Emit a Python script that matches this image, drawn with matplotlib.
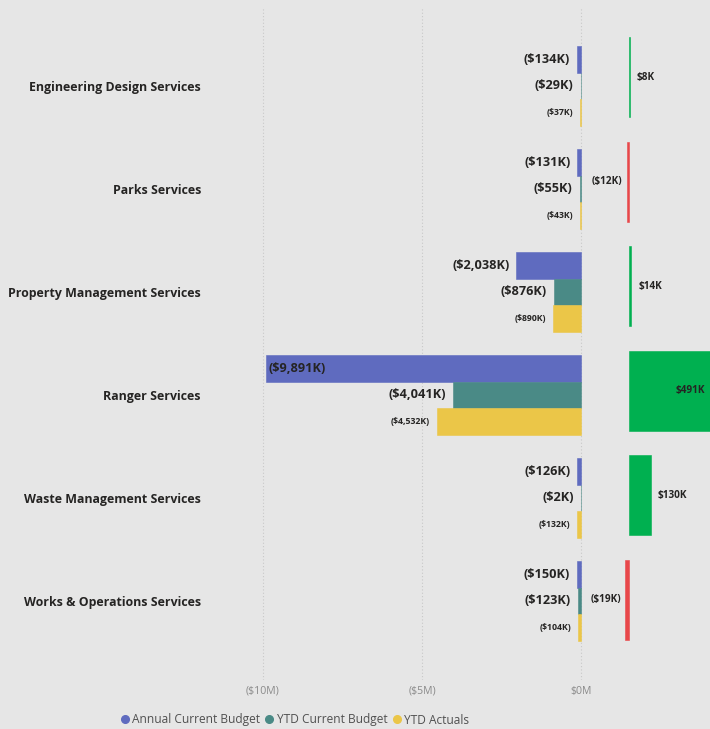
import matplotlib.pyplot as plt
from matplotlib.lines import Line2D

plt.rcParams['font.family'] = ['Open Sans', 'DejaVu Sans']

# values in $K
services = ['Engineering Design Services', 'Parks Services', 'Property Management Services',
            'Ranger Services', 'Waste Management Services', 'Works & Operations Services']
annual_budget = [-134, -131, -2038, -9891, -126, -150]
ytd_budget = [-29, -55, -876, -4041, -2, -123]
ytd_actuals = [-37, -43, -890, -4532, -132, -104]
variance = [8, -12, 14, 491, 130, -19]

series_names = ['Annual Current Budget', 'YTD Current Budget', 'YTD Actuals']
series_colors = ['#5F6BBF', '#4A8A86', '#EBC648']
xtick_vals = [-10000, -5000, 0]
xtick_text = ['($10M)', '($5M)', '$0M']

BG = '#E6E6E6'
TXT = '#252423'


def fmt_k(v):
    s = '${:,.0f}K'.format(abs(v))
    return '({})'.format(s) if v < 0 else s


W, H = 710, 729
fig = plt.figure(figsize=(W / 100, H / 100), dpi=100, facecolor=BG)

# main grouped bars
ax = fig.add_axes([210 / W, 1 - 680 / H, 390 / W, 672 / H])
ax.set_facecolor('none')
ax.set_xlim(-11646, 580)
ax.set_ylim(5.767, -0.757)

bh = 0.256
series = [annual_budget, ytd_budget, ytd_actuals]
for k, (vals, col) in enumerate(zip(series, series_colors)):
    off = (k - 1) * bh
    for i, v in enumerate(vals):
        y = i + off
        ax.barh(y, v, height=bh, color=col, edgecolor=col, linewidth=0.4)
        fs = 6.3 if k == 2 else 9.2
        if v < -9000:
            ax.annotate(fmt_k(v), (v, y), xytext=(3, 0), textcoords='offset pixels',
                        ha='left', va='center', fontsize=fs, fontweight='bold', color=TXT)
        else:
            ax.annotate(fmt_k(v), (v, y), xytext=(-7, 0), textcoords='offset pixels',
                        ha='right', va='center', fontsize=fs, fontweight='bold', color=TXT)

ax.set_yticks(range(len(services)))
ax.set_yticklabels(services, fontsize=8.9, fontweight='bold', color=TXT)
ax.tick_params(axis='y', length=0, pad=6.5)
ax.set_xticks(xtick_vals)
ax.set_xticklabels(xtick_text, fontsize=7.6, color='#8A8A8A')
ax.tick_params(axis='x', length=0, pad=4)
ax.grid(axis='x', linestyle=(0, (1, 2)), color='#C8C8C8', linewidth=0.8)
ax.set_axisbelow(True)
for sp in ax.spines.values():
    sp.set_visible(False)

# variance panel
av = fig.add_axes([585 / W, 1 - 680 / H, 125 / W, 672 / H])
av.set_facecolor('none')
av.set_xlim(-258, 480)
av.set_ylim(5.765, -0.66)
for i, v in enumerate(variance):
    col = '#00B050' if v >= 0 else '#E8474A'
    av.barh(i, v, height=0.765, color=col, edgecolor=col, linewidth=0.4)
    if v >= 0 and v > av.get_xlim()[1] * 0.8:
        av.annotate(fmt_k(v), (av.get_xlim()[1], i), xytext=(-5, 0), textcoords='offset pixels',
                    ha='right', va='center', fontsize=7.2, fontweight='bold', color=TXT)
    elif v >= 0:
        av.annotate(fmt_k(v), (v, i), xytext=(7, 0), textcoords='offset pixels',
                    ha='left', va='center', fontsize=7.2, fontweight='bold', color=TXT)
    else:
        av.annotate(fmt_k(v), (v, i), xytext=(-4, 0), textcoords='offset pixels',
                    ha='right', va='center', fontsize=7.2, fontweight='bold', color=TXT)
av.set_xticks([])
av.set_yticks([])
for sp in av.spines.values():
    sp.set_visible(False)

handles = [Line2D([], [], marker='o', linestyle='none', markersize=5.5, color=c) for c in series_colors]
fig.legend(handles, series_names, loc='center left', bbox_to_anchor=(121 / W, 1 - 720 / H),
           ncol=3, frameon=False, fontsize=8.6, handlelength=0.6, handletextpad=0.35,
           columnspacing=0.45, labelcolor='#505050', borderaxespad=0, borderpad=0)

fig.savefig('out.png', dpi=100, facecolor=BG)
